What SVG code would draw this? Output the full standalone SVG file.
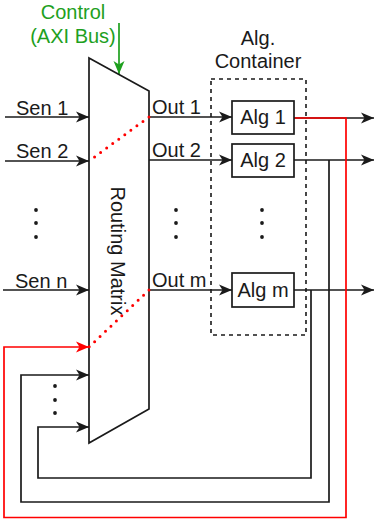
<svg xmlns="http://www.w3.org/2000/svg" width="375" height="519" viewBox="0 0 375 519">
<style>
text{font-family:"Liberation Sans",Arial,sans-serif;font-size:20px;fill:#1a1a1a}
.ln{fill:none;stroke:#1a1a1a;stroke-width:1.7}
.rd{fill:none;stroke:#ff0000;stroke-width:1.7}
.dot{fill:none;stroke:#ff0000;stroke-width:3;stroke-linecap:round;stroke-dasharray:0 7.5}
.box{fill:#fff;stroke:#1a1a1a;stroke-width:1.7}
.vd{fill:#1a1a1a}
</style>
<defs>
<marker id="ab" markerWidth="14" markerHeight="12" refX="13" refY="6" orient="auto" markerUnits="userSpaceOnUse"><path d="M0,0.5 L13,6 L0,11.5 L3.5,6 z" fill="#1a1a1a"/></marker>
<marker id="ar" markerWidth="14" markerHeight="12" refX="13" refY="6" orient="auto" markerUnits="userSpaceOnUse"><path d="M0,0.5 L13,6 L0,11.5 L3.5,6 z" fill="#ff0000"/></marker>
<marker id="ag" markerWidth="14" markerHeight="12" refX="13" refY="6" orient="auto" markerUnits="userSpaceOnUse"><path d="M0,0.5 L13,6 L0,11.5 L3.5,6 z" fill="#1ea01e"/></marker>
</defs>

<g id="container">
<rect x="211" y="79" width="95" height="256" fill="none" stroke="#1a1a1a" stroke-width="1.6" stroke-dasharray="4 4"/>
<text x="258" y="45" text-anchor="middle">Alg.</text>
<text x="258" y="68" text-anchor="middle">Container</text>
<circle class="vd" cx="262" cy="210" r="1.9"/><circle class="vd" cx="262" cy="223" r="1.9"/><circle class="vd" cx="262" cy="237" r="1.9"/>
</g>

<g id="connectors">
<line class="ln" x1="5" y1="117" x2="89" y2="117" marker-end="url(#ab)"/>
<line class="ln" x1="5" y1="161" x2="89" y2="161" marker-end="url(#ab)"/>
<line class="ln" x1="3" y1="290" x2="89" y2="290" marker-end="url(#ab)"/>
<line class="ln" x1="149" y1="117" x2="232" y2="117" marker-end="url(#ab)"/>
<line class="ln" x1="149" y1="160" x2="232" y2="160" marker-end="url(#ab)"/>
<line class="ln" x1="149" y1="290" x2="232" y2="290" marker-end="url(#ab)"/>
<line class="ln" x1="294" y1="118" x2="374" y2="118" marker-end="url(#ab)"/>
<line class="ln" x1="294" y1="160" x2="374" y2="160" marker-end="url(#ab)"/>
<line class="ln" x1="294" y1="290" x2="374" y2="290" marker-end="url(#ab)"/>
<path class="ln" d="M329,160 V502 H21 V375 H89" marker-end="url(#ab)"/>
<path class="ln" d="M311,290 V478 H38 V427 H89" marker-end="url(#ab)"/>
<path class="rd" d="M294,118 H346 V517.5 H4 V347 H89" marker-end="url(#ar)"/>
<line x1="119" y1="23" x2="119" y2="74" stroke="#1ea01e" stroke-width="1.7" marker-end="url(#ag)"/>
</g>

<g id="matrix">
<polygon class="box" points="89,58 149,91 149,409 89,443"/>
<text transform="translate(118,251) rotate(90)" text-anchor="middle" dominant-baseline="central">Routing Matrix</text>
<line class="dot" x1="149" y1="117" x2="89" y2="161"/>
<line class="dot" x1="149" y1="290" x2="89" y2="347"/>
</g>

<g id="labels">
<text x="16" y="115">Sen 1</text>
<text x="16" y="158">Sen 2</text>
<text x="15" y="288">Sen n</text>
<text x="152" y="114">Out 1</text>
<text x="152" y="157">Out 2</text>
<text x="152" y="287">Out m</text>
<text x="73" y="19" text-anchor="middle" style="fill:#1ea01e">Control</text>
<text x="73" y="43" text-anchor="middle" style="fill:#1ea01e">(AXI Bus)</text>
<circle class="vd" cx="36" cy="210" r="1.9"/><circle class="vd" cx="36" cy="223" r="1.9"/><circle class="vd" cx="36" cy="237" r="1.9"/>
<circle class="vd" cx="176" cy="210" r="1.9"/><circle class="vd" cx="176" cy="223" r="1.9"/><circle class="vd" cx="176" cy="237" r="1.9"/>
<circle class="vd" cx="55" cy="386" r="1.9"/><circle class="vd" cx="55" cy="400" r="1.9"/><circle class="vd" cx="55" cy="413" r="1.9"/>
</g>

<g id="alg1"><rect class="box" x="232" y="101" width="62" height="33"/><text x="263" y="124" text-anchor="middle">Alg 1</text></g>
<g id="alg2"><rect class="box" x="232" y="144" width="62" height="33"/><text x="263" y="167" text-anchor="middle">Alg 2</text></g>
<g id="algm"><rect class="box" x="232" y="273" width="62" height="34"/><text x="263" y="297" text-anchor="middle">Alg m</text></g>
</svg>
